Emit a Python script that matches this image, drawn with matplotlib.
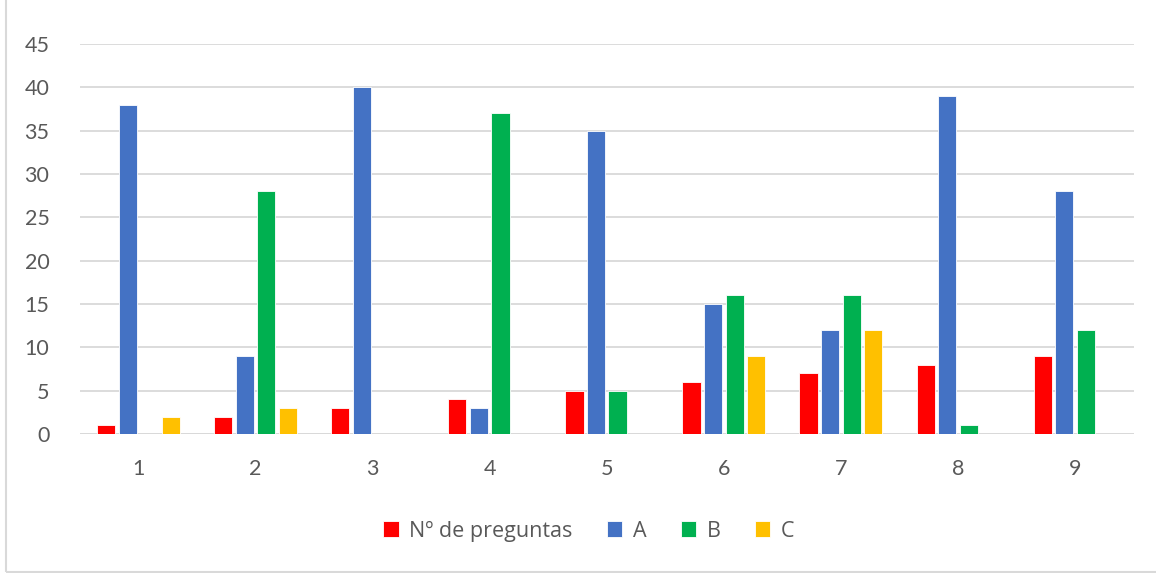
import numpy as np
import matplotlib.pyplot as plt
from matplotlib.patches import Rectangle

# Data
categories = ["1", "2", "3", "4", "5", "6", "7", "8", "9"]
n_preguntas = [1, 2, 3, 4, 5, 6, 7, 8, 9]
serie_a = [38, 9, 40, 3, 35, 15, 12, 39, 28]
serie_b = [0, 28, 0, 37, 5, 16, 16, 1, 12]
serie_c = [2, 3, 0, 0, 0, 9, 12, 0, 0]
labels = ["Nº de preguntas", "A", "B", "C"]
colors = ["#FF0000", "#4472C4", "#00B050", "#FFC000"]

plt.rcParams['font.family'] = ['Lato', 'DejaVu Sans']

fig = plt.figure(figsize=(11.56, 5.73), dpi=100)
ax = fig.add_axes([80/1156, 1 - 434/573, (1133.5 - 80)/1156, (434 - 44)/573])

x = np.arange(len(categories))
step = 0.184
width = 0.155
series = [n_preguntas, serie_a, serie_b, serie_c]
for i, (vals, lab, col) in enumerate(zip(series, labels, colors)):
    ax.bar(x + (i - 1.5) * step, vals, width, color=col, label=lab,
           edgecolor='white', linewidth=0.6, zorder=3)

ax.set_xlim(-0.5, len(categories) - 0.5)
ax.set_ylim(0, 45)
ax.set_yticks(range(0, 46, 5))
ax.set_xticks(x)
ax.set_xticklabels(categories)
ax.grid(axis='y', color='#D9D9D9', linewidth=1.3, zorder=0)
ax.axhline(0, color='#D9D9D9', linewidth=1.3, zorder=2)
for s in ax.spines.values():
    s.set_visible(False)
ax.tick_params(length=0, labelsize=15.5, colors='#595959')
ax.tick_params(axis='x', pad=18)
ax.tick_params(axis='y', pad=22)

leg = fig.legend(loc='center', bbox_to_anchor=(589/1156, 1 - 531/573), ncol=4,
                 frameon=False, prop={'family': ['Open Sans', 'DejaVu Sans'], 'size': 15.5},
                 handlelength=0.7, handleheight=0.7,
                 handletextpad=0.5, columnspacing=1.6)
for t in leg.get_texts():
    t.set_color('#595959')

# chart area border (left and bottom visible)
fig.patches.append(Rectangle((6/1156, 1/573), 1.2, 1.2, transform=fig.transFigure,
                             fill=False, edgecolor='#D9D9D9', linewidth=1.5))

fig.savefig("out.png", dpi=100)
